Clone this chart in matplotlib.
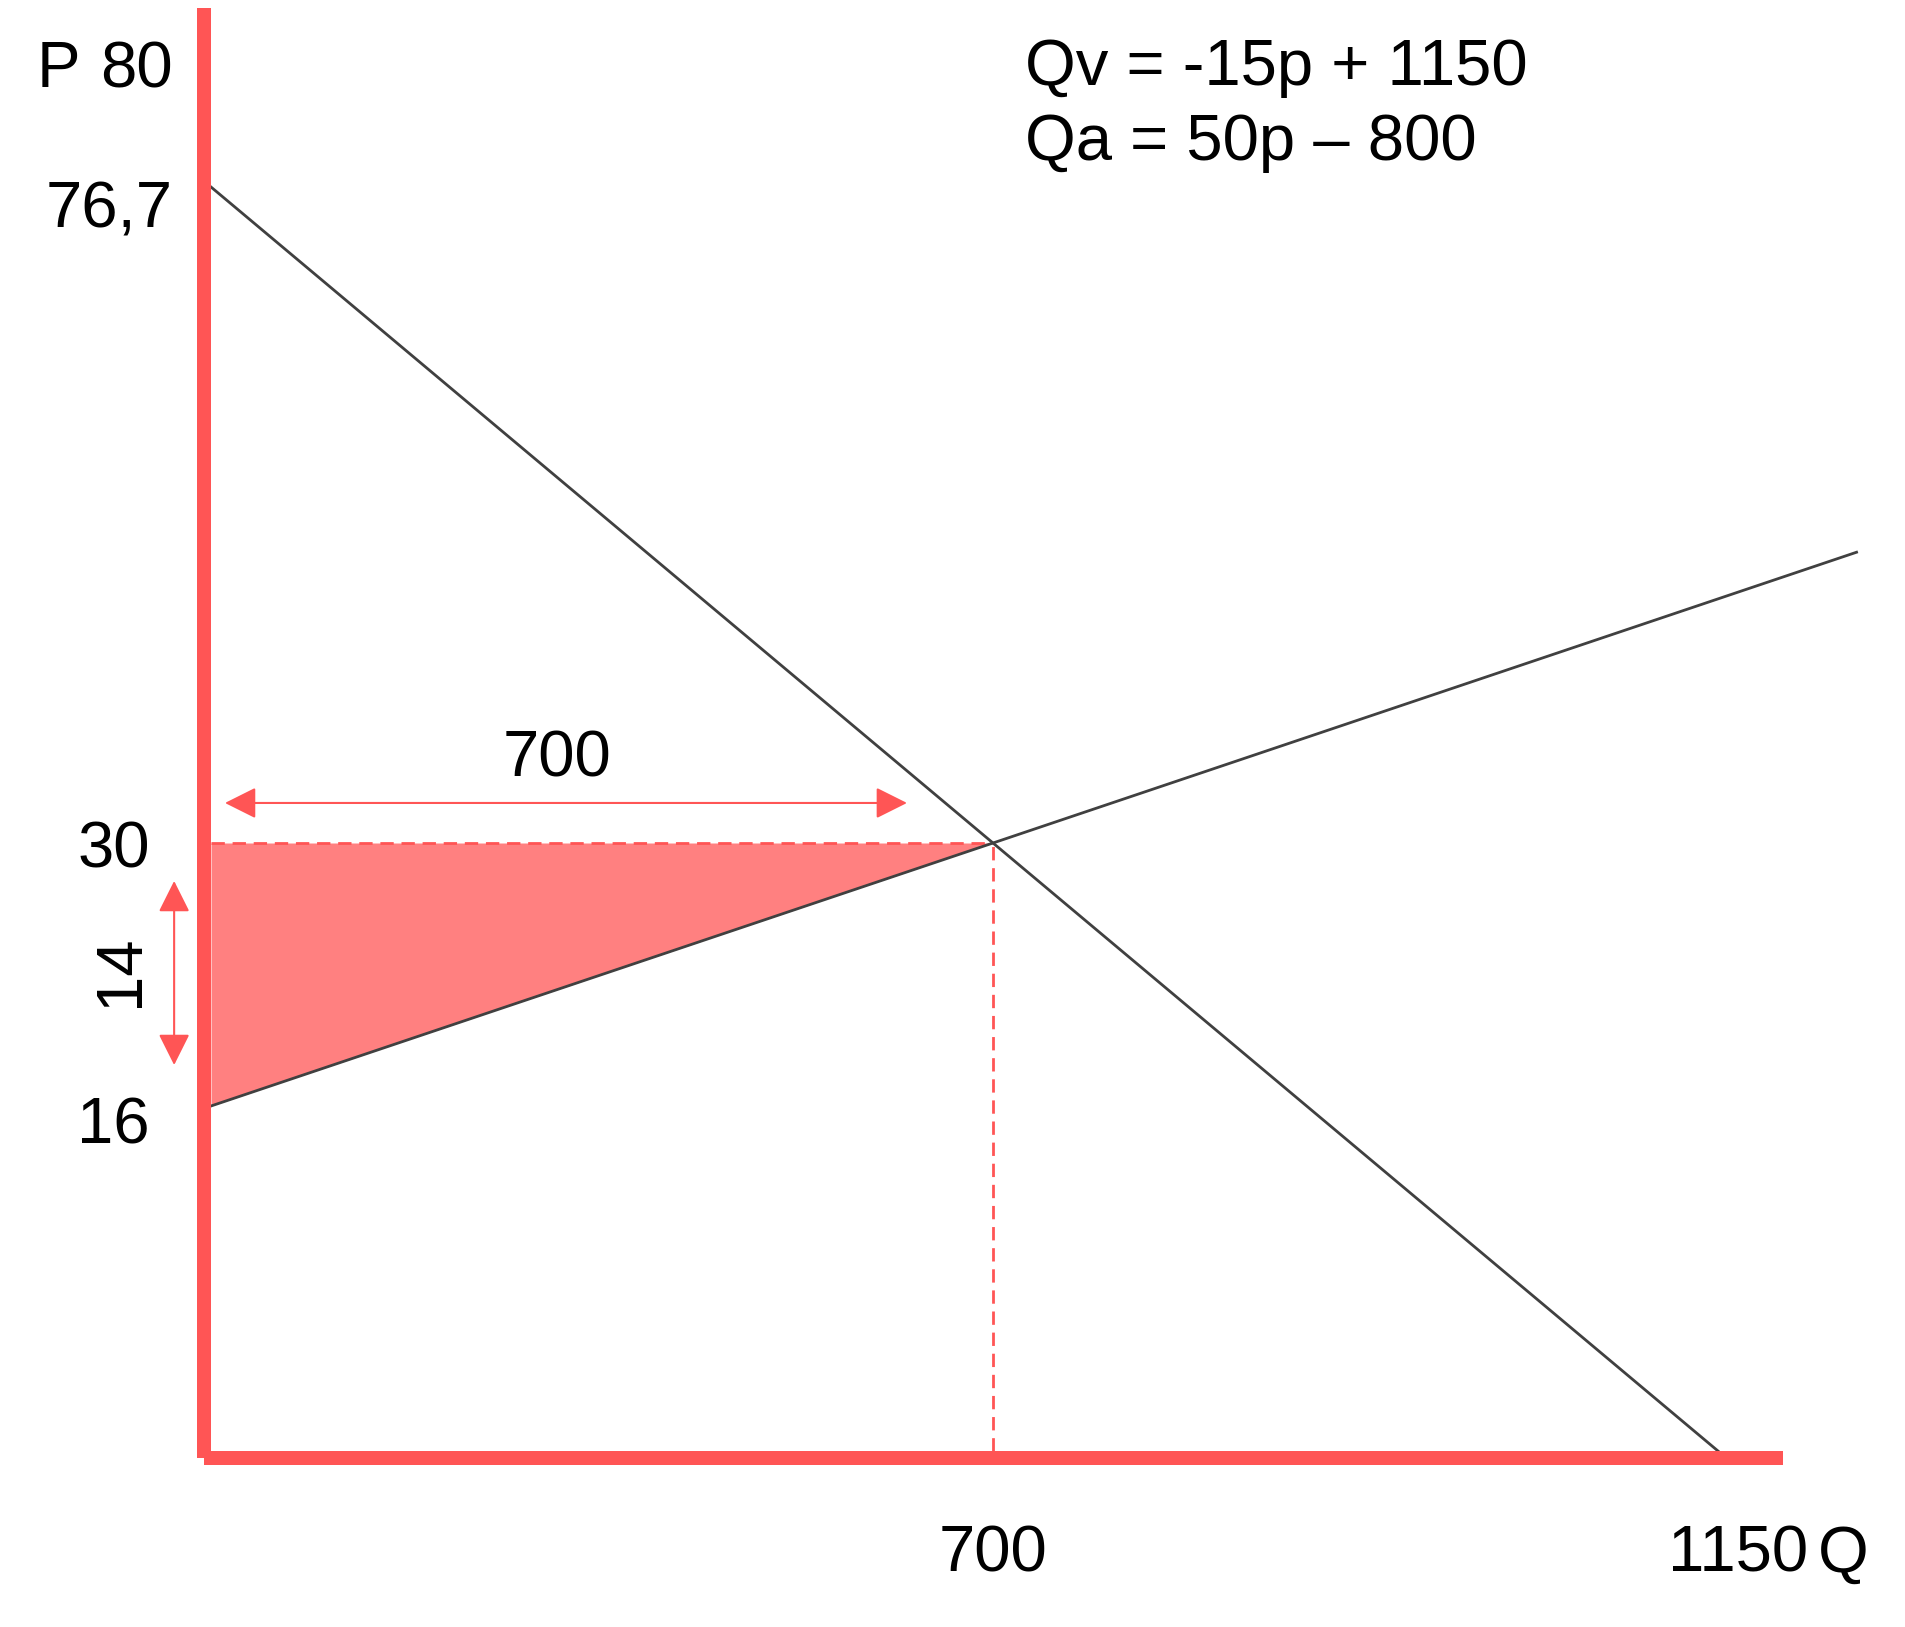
import numpy as np
import matplotlib
matplotlib.use('Agg')
import matplotlib.pyplot as plt
from matplotlib.patches import FancyArrowPatch, ArrowStyle

plt.rcParams['font.family'] = ['Liberation Sans', 'DejaVu Sans']

# Dados do grafico
q_ticks = [0, 700, 1150]
p_ticks = [0, 16, 30, 76.7, 80]
demand_q = [0, 700, 1150]
demand_p = [76.7, 30, 0]
supply_q = [0, 700, 1236]
supply_p = [16, 30, 50.7]
q_eq = 700
p_eq = 30
eq_texts = ['Qv = -15p + 1150', 'Qa = 50p \u2013 800']

# setas de medida
arrow_q = [12.5, 623]
arrow_q_p = 32.85
arrow_q_label = '700'
arrow_p = [27.98, 18.18]
arrow_p_q = -33
arrow_p_label = '14'

vermelho = '#FF5555'
rosa = '#FF8080'
cinza = '#404040'

# o grafico nao esta em escala: escala linear por partes (knots -> unidades)
q_units = [7, 789, 1514]
p_units = [6.5, 351.5, 614.5, 1270.5, 1394.5]


def piecewise(xk, yk):
    xk = np.asarray(xk, float)
    yk = np.asarray(yk, float)

    def f(v):
        v = np.asarray(v, float)
        out = np.interp(v, xk, yk)
        lo = yk[0] + (v - xk[0]) * (yk[1] - yk[0]) / (xk[1] - xk[0])
        hi = yk[-1] + (v - xk[-1]) * (yk[-1] - yk[-2]) / (xk[-1] - xk[-2])
        return np.where(v < xk[0], lo, np.where(v > xk[-1], hi, out))
    return f


W, H = 1906, 1627
fig = plt.figure(figsize=(W / 100, H / 100), dpi=100)
ax_w, ax_h = 1579, 1449.5
ax = fig.add_axes([204 / W, (H - 1457.5) / H, ax_w / W, ax_h / H])

ax.set_xscale('function', functions=(piecewise(q_ticks, q_units), piecewise(q_units, q_ticks)))
ax.set_yscale('function', functions=(piecewise(p_ticks, p_units), piecewise(p_units, p_ticks)))
ax.set_xlim(piecewise(q_units, q_ticks)(0), piecewise(q_units, q_ticks)(ax_w))
ax.set_ylim(piecewise(p_units, p_ticks)(0), piecewise(p_units, p_ticks)(ax_h))
ax.set_xticks([])
ax.set_yticks([])

for s in ['top', 'right']:
    ax.spines[s].set_visible(False)
for s in ['left', 'bottom']:
    ax.spines[s].set_color(vermelho)
    ax.spines[s].set_linewidth(10.08)
    ax.spines[s].set_capstyle('butt')
    ax.spines[s].set_zorder(5)

# area (triangulo)
ax.fill_between(supply_q[:2], supply_p[:2], [p_eq, p_eq], color=rosa, lw=0, zorder=1)

# linhas tracejadas
ax.plot([0, q_eq], [p_eq, p_eq], color=vermelho, lw=2.0, ls=(0, (4.8, 2.8)), zorder=2)
ax.plot([q_eq, q_eq], [0, p_eq], color=vermelho, lw=2.0, ls=(0, (4.8, 2.8)), zorder=2)

# procura e oferta
ax.plot(demand_q, demand_p, color=cinza, lw=2.0, zorder=3, clip_on=False)
ax.plot(supply_q, supply_p, color=cinza, lw=2.0, zorder=3, clip_on=False)

estilo = ArrowStyle('<|-|>', head_length=19.4, head_width=9.7)
ax.add_patch(FancyArrowPatch((arrow_q[0], arrow_q_p), (arrow_q[1], arrow_q_p), arrowstyle=estilo,
                             mutation_scale=1, color=vermelho, lw=1.5, shrinkA=0, shrinkB=0, clip_on=False))
ax.add_patch(FancyArrowPatch((arrow_p_q, arrow_p[0]), (arrow_p_q, arrow_p[1]), arrowstyle=estilo,
                             mutation_scale=1, color=vermelho, lw=1.5, shrinkA=0, shrinkB=0, clip_on=False))

fs = 47
ax.text(309.7, 34.7, arrow_q_label, fontsize=fs, ha='center', va='baseline')
ax.text(-81, 23.2, arrow_p_label, fontsize=fs, ha='center', va='center', rotation=90)

# rotulos dos eixos
def rotulo(txt, xy, dx, dy, ha='right'):
    ax.annotate(txt, xy=xy, xytext=(dx, dy), textcoords='offset pixels',
                fontsize=fs, ha=ha, va='baseline', annotation_clip=False)

rotulo('P', (0, 80), -131, -24)
rotulo('80', (0, 80), -38, -24)
rotulo('76,7', (0, 76.7), -38, -40)
rotulo('30', (0, 30), -61, -24)
rotulo('16', (0, 16), -61, -37)
rotulo('700', (700, 0), 0, -120, ha='center')
rotulo('1150', (1150, 0), 20, -120, ha='center')
rotulo('Q', (1150, 0), 100, -121, ha='left')

fig.text(1025 / W, 1 - 85 / H, eq_texts[0], fontsize=fs, ha='left', va='baseline')
fig.text(1025 / W, 1 - 160 / H, eq_texts[1], fontsize=fs, ha='left', va='baseline')

fig.savefig('out.png', dpi=100)
plt.close()
